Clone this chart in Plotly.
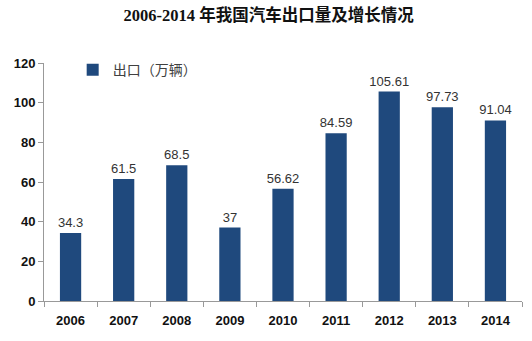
import plotly.graph_objects as go

years = ["2006", "2007", "2008", "2009", "2010", "2011", "2012", "2013", "2014"]
exports = [34.3, 61.5, 68.5, 37, 56.62, 84.59, 105.61, 97.73, 91.04]
labels = ["34.3", "61.5", "68.5", "37", "56.62", "84.59", "105.61", "97.73", "91.04"]
y_ticks = [0, 20, 40, 60, 80, 100, 120]

fig = go.Figure()
fig.add_trace(go.Bar(
    x=years, y=exports, name="出口（万辆）",
    marker=dict(color="#1F497D", line=dict(width=0)),
    width=0.4,
    text=labels, textposition="outside", cliponaxis=False,
    textfont=dict(size=13, color="#333333", family="Liberation Sans, Noto Sans CJK SC"),
))

fig.update_layout(
    width=532, height=341,
    margin=dict(l=44, r=10, t=63, b=40),
    paper_bgcolor="white", plot_bgcolor="white",
    uniformtext=dict(minsize=13, mode="show"),
    title=dict(text="<b>2006-2014 年我国汽车出口量及增长情况</b>",
               x=0.47, xref="paper", xanchor="center", y=0.955, yanchor="middle",
               font=dict(size=16.5, color="#111111", family="Liberation Serif, Noto Sans CJK SC")),
    showlegend=True,
    legend=dict(x=0.06, y=0.97, xanchor="left", yanchor="middle",
                bgcolor="rgba(0,0,0,0)",
                font=dict(size=14, color="#404040", family="Noto Sans CJK SC")),
    xaxis=dict(
        showline=True, linecolor="#999999", linewidth=1,
        ticks="outside", tickson="boundaries", ticklen=5, tickcolor="#999999",
        tickfont=dict(size=13, color="#111111", family="Liberation Sans", weight="bold"),
        ticklabelstandoff=7,
        showgrid=False,
    ),
    yaxis=dict(
        range=[0, 120], tickvals=y_ticks,
        showline=True, linecolor="#999999", linewidth=1,
        ticks="outside", ticklen=5, tickcolor="#999999",
        tickfont=dict(size=13, color="#111111", family="Liberation Sans", weight="bold"),
        showgrid=False, zeroline=False,
    ),
)

fig.write_html("out.html")
